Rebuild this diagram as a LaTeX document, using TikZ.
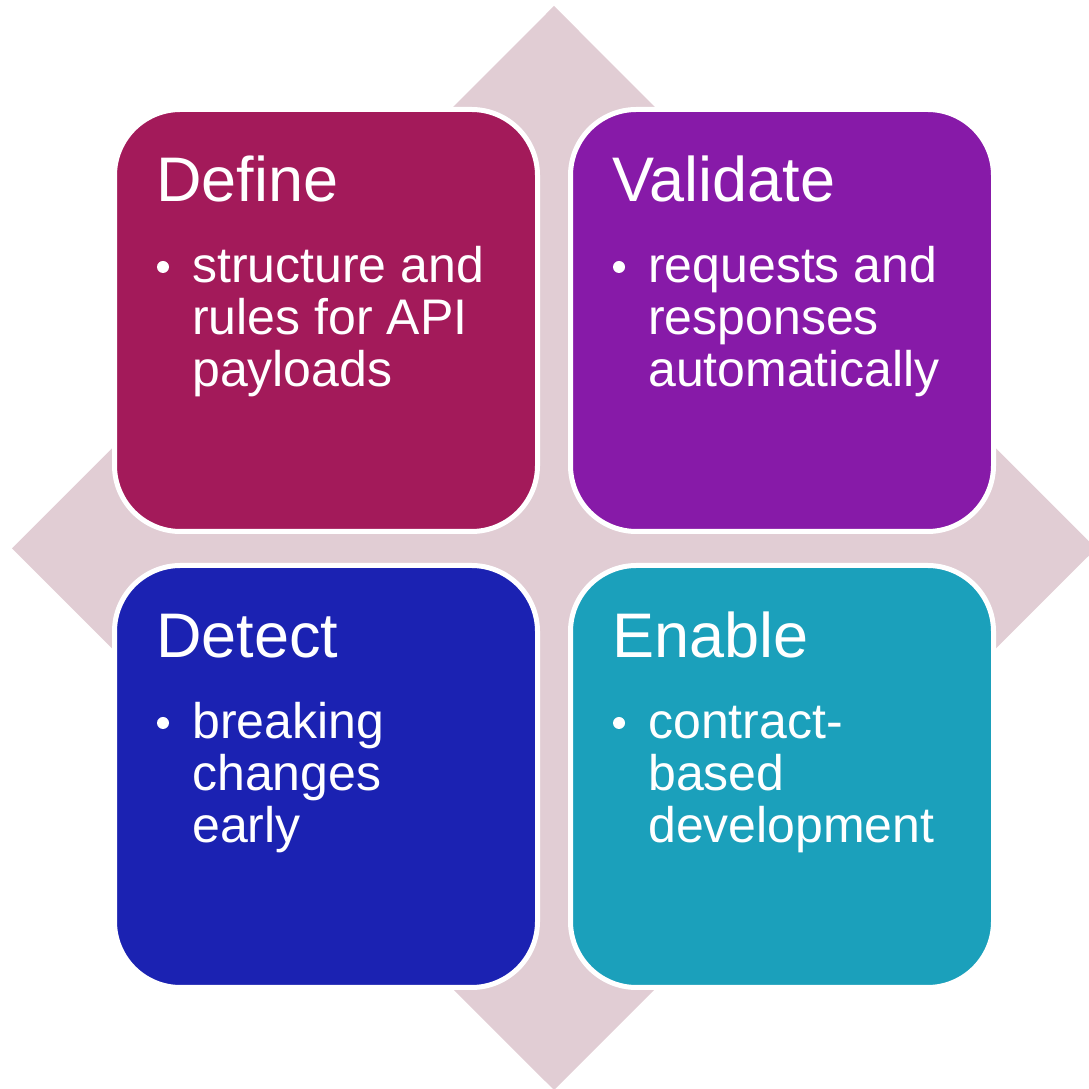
\documentclass[tikz,border=0pt]{standalone}
\usepackage{fontspec}
\setmainfont{Liberation Sans}

\definecolor{backdrop}{RGB}{225,205,212}
\definecolor{definefill}{RGB}{163,26,90}
\definecolor{validatefill}{RGB}{135,26,168}
\definecolor{detectfill}{RGB}{27,34,178}
\definecolor{enablefill}{RGB}{27,160,187}

\begin{document}
\begin{tikzpicture}[x=1pt, y=1pt,
    quad/.style={draw=white, line width=5pt, rounded corners=66pt, minimum width=423pt, minimum height=422pt, inner sep=0pt, outer sep=0pt},
    headline/.style={anchor=base west, text=white, inner sep=0pt, font=\fontsize{63}{70}\selectfont},
    bodytext/.style={anchor=base west, text=white, inner sep=0pt, align=left, font=\fontsize{50}{52}\selectfont},
    dot/.style={circle, fill=white, minimum size=12pt, inner sep=0pt}]
            \useasboundingbox (0,0) rectangle (1089,1089);
            \fill[backdrop] (12,540.5) -- (554,1083) -- (1096,540.5) -- (554,-1) -- cycle;

            \node[quad, fill=definefill] (define) at (326,768.5) {};
            \node[headline] (define-title) at ([shift={(41.5,-92.5)}]define.north west) {Define};
            \node[dot] (define-dot) at ([shift={(48.5,-157.5)}]define.north west) {};
            \node[bodytext] (define-text) at ([shift={(77.5,-277.5)}]define.north west) {structure and\\rules for API\\payloads};

            \node[quad, fill=validatefill] (validate) at (782,768.5) {};
            \node[headline] (validate-title) at ([shift={(41.5,-92.5)}]validate.north west) {Validate};
            \node[dot] (validate-dot) at ([shift={(48.5,-157.5)}]validate.north west) {};
            \node[bodytext] (validate-text) at ([shift={(77.5,-277.5)}]validate.north west) {requests and\\responses\\automatically};

            \node[quad, fill=detectfill] (detect) at (326,312.5) {};
            \node[headline] (detect-title) at ([shift={(41.5,-92.5)}]detect.north west) {Detect};
            \node[dot] (detect-dot) at ([shift={(48.5,-157.5)}]detect.north west) {};
            \node[bodytext] (detect-text) at ([shift={(77.5,-277.5)}]detect.north west) {breaking\\changes\\early};

            \node[quad, fill=enablefill] (enable) at (782,312.5) {};
            \node[headline] (enable-title) at ([shift={(41.5,-92.5)}]enable.north west) {Enable};
            \node[dot] (enable-dot) at ([shift={(48.5,-157.5)}]enable.north west) {};
            \node[bodytext] (enable-text) at ([shift={(77.5,-277.5)}]enable.north west) {contract-\\based\\development};
        \end{tikzpicture}
\end{document}
